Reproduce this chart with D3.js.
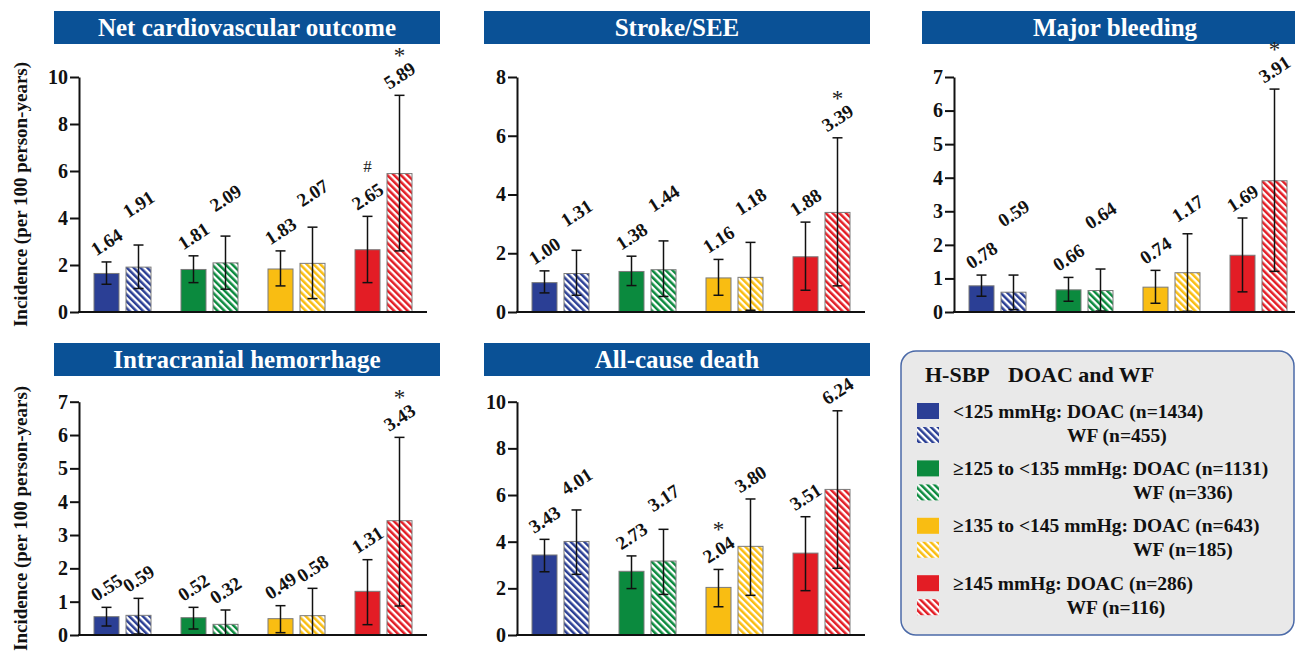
<!DOCTYPE html>
<html>
<head>
<meta charset="utf-8">
<script src="https://cdn.jsdelivr.net/npm/d3@7"></script>
<style>
    body { margin: 0; background: #fff; }
    svg, svg text { font-family: "Liberation Serif", Tinos, "Times New Roman", Times, "DejaVu Serif", serif !important; }
</style>
</head>
<body>
<div id="chart"></div>
<script>
const GROUPS = ['<125 mmHg', '≥125 to <135 mmHg', '≥135 to <145 mmHg', '≥145 mmHg'];
const DOAC_N = [1434, 1131, 643, 286];
const WF_N = [455, 336, 185, 116];
const COLORS = ['#2b3f95', '#0b8a3e', '#f9bd12', '#e31d25'];

// incidence per 100 person-years, with 95% CI [low, high]
const NET_DOAC = [1.64, 1.81, 1.83, 2.65];
const NET_DOAC_CI = [[1.18, 2.13], [1.25, 2.39], [1.11, 2.6], [1.25, 4.07]];
const NET_WF = [1.91, 2.09, 2.07, 5.89];
const NET_WF_CI = [[1.0, 2.85], [0.97, 3.23], [0.57, 3.61], [2.6, 9.22]];

const STROKE_DOAC = [1.0, 1.38, 1.16, 1.88];
const STROKE_DOAC_CI = [[0.65, 1.4], [0.9, 1.9], [0.57, 1.79], [0.74, 3.06]];
const STROKE_WF = [1.31, 1.44, 1.18, 3.39];
const STROKE_WF_CI = [[0.57, 2.1], [0.53, 2.42], [0.06, 2.37], [0.89, 5.93]];

const BLEED_DOAC = [0.78, 0.66, 0.74, 1.69];
const BLEED_DOAC_CI = [[0.47, 1.1], [0.32, 1.03], [0.26, 1.24], [0.6, 2.8]];
const BLEED_WF = [0.59, 0.64, 1.17, 3.91];
const BLEED_WF_CI = [[0.07, 1.1], [0.03, 1.28], [0.02, 2.33], [1.21, 6.64]];

const ICH_DOAC = [0.55, 0.52, 0.49, 1.31];
const ICH_DOAC_CI = [[0.27, 0.83], [0.18, 0.83], [0.07, 0.88], [0.31, 2.26]];
const ICH_WF = [0.59, 0.32, 0.58, 3.43];
const ICH_WF_CI = [[0.03, 1.1], [0.0, 0.75], [0.0, 1.4], [0.87, 5.93]];

const DEATH_DOAC = [3.43, 2.73, 2.04, 3.51];
const DEATH_DOAC_CI = [[2.71, 4.1], [1.99, 3.39], [1.21, 2.81], [1.9, 5.07]];
const DEATH_WF = [4.01, 3.17, 3.8, 6.24];
const DEATH_WF_CI = [[2.6, 5.36], [1.74, 4.53], [1.7, 5.83], [2.86, 9.61]];

// significance marks above bars
const NET_DOAC_MARK = ['', '', '', '#'];
const NET_WF_MARK = ['', '', '', '*'];
const STROKE_WF_MARK = ['', '', '', '*'];
const BLEED_WF_MARK = ['', '', '', '*'];
const ICH_WF_MARK = ['', '', '', '*'];
const DEATH_DOAC_MARK = ['', '', '*', ''];
const NO_MARK = ['', '', '', ''];

const panels = [
    { title: 'Net cardiovascular outcome', col: 0, row: 0, yMax: 10, step: 2,
      doac: NET_DOAC, doacCI: NET_DOAC_CI, wf: NET_WF, wfCI: NET_WF_CI,
      doacMark: NET_DOAC_MARK, wfMark: NET_WF_MARK, stagger: 38 },
    { title: 'Stroke/SEE', col: 1, row: 0, yMax: 8, step: 2,
      doac: STROKE_DOAC, doacCI: STROKE_DOAC_CI, wf: STROKE_WF, wfCI: STROKE_WF_CI,
      doacMark: NO_MARK, wfMark: STROKE_WF_MARK, stagger: 38 },
    { title: 'Major bleeding', col: 2, row: 0, yMax: 7, step: 1,
      doac: BLEED_DOAC, doacCI: BLEED_DOAC_CI, wf: BLEED_WF, wfCI: BLEED_WF_CI,
      doacMark: NO_MARK, wfMark: BLEED_WF_MARK, stagger: 42 },
    { title: 'Intracranial hemorrhage', col: 0, row: 1, yMax: 7, step: 1,
      doac: ICH_DOAC, doacCI: ICH_DOAC_CI, wf: ICH_WF, wfCI: ICH_WF_CI,
      doacMark: NO_MARK, wfMark: ICH_WF_MARK, stagger: 0 },
    { title: 'All-cause death', col: 1, row: 1, yMax: 10, step: 2,
      doac: DEATH_DOAC, doacCI: DEATH_DOAC_CI, wf: DEATH_WF, wfCI: DEATH_WF_CI,
      doacMark: DEATH_DOAC_MARK, wfMark: NO_MARK, stagger: 38 }
];

const width = 1295;
const height = 653;
const axisX = [79, 517, 954];
const titleX = [54, 484, 922];
const titleW = 386;
const titleY = [11, 343];
const titleH = 33;
const plotBottom = [312, 635];
const plotTop = [77, 401.7];
const TITLE_BG = '#0a5196';
const FONT = '"Liberation Serif", Tinos, "Times New Roman", Times, "DejaVu Serif", serif';

const svg = d3.select('#chart')
    .append('svg')
    .attr('width', width)
    .attr('height', height)
    .attr('font-family', FONT);

// hatch patterns
const defs = svg.append('defs');
COLORS.forEach((c, i) => {
    const p = defs.append('pattern')
        .attr('id', 'hatch' + i)
        .attr('patternUnits', 'userSpaceOnUse')
        .attr('width', 4.8)
        .attr('height', 4.8)
        .attr('patternTransform', 'rotate(-45)');
    p.append('rect').attr('width', 4.8).attr('height', 4.8).attr('fill', '#fff');
    p.append('rect').attr('width', 2.5).attr('height', 4.8).attr('fill', c);
});

panels.forEach((pn) => {
    const g = svg.append('g');
    const x0 = axisX[pn.col];
    const yB = plotBottom[pn.row];

    // title banner
    g.append('rect')
        .attr('x', titleX[pn.col])
        .attr('y', titleY[pn.row])
        .attr('width', titleW)
        .attr('height', titleH)
        .attr('fill', TITLE_BG);
    g.append('text')
        .attr('x', titleX[pn.col] + titleW / 2)
        .attr('y', titleY[pn.row] + titleH / 2 + 8.5)
        .attr('text-anchor', 'middle')
        .attr('fill', '#fff')
        .attr('font-weight', 'bold')
        .attr('font-size', 25)
        .text(pn.title);

    const x = d3.scaleBand()
        .domain(GROUPS)
        .range([x0, x0 + 348])
        .paddingInner(30 / 87)
        .paddingOuter(15 / 87);
    const xSub = d3.scaleBand()
        .domain(['DOAC', 'WF'])
        .range([0, x.bandwidth()])
        .paddingInner(7 / 32);
    const y = d3.scaleLinear()
        .domain([0, pn.yMax])
        .range([yB, plotTop[pn.row]]);

    const bars = [];
    GROUPS.forEach((grp, i) => {
        bars.push({ grp, i, kind: 'DOAC', v: pn.doac[i], ci: pn.doacCI[i], mark: pn.doacMark[i] });
        bars.push({ grp, i, kind: 'WF', v: pn.wf[i], ci: pn.wfCI[i], mark: pn.wfMark[i] });
    });

    const bw = xSub.bandwidth();
    const cx = (d) => x(d.grp) + xSub(d.kind) + bw / 2;

    g.selectAll('rect.bar')
        .data(bars)
        .enter()
        .append('rect')
        .attr('class', 'bar')
        .attr('x', (d) => x(d.grp) + xSub(d.kind))
        .attr('y', (d) => y(d.v))
        .attr('width', bw)
        .attr('height', (d) => yB - y(d.v))
        .attr('fill', (d) => (d.kind === 'DOAC' ? COLORS[d.i] : 'url(#hatch' + d.i + ')'))
        .attr('stroke', '#7a7a7a')
        .attr('stroke-width', 1);

    // error bars
    const err = g.selectAll('g.err')
        .data(bars)
        .enter()
        .append('g')
        .attr('stroke', '#111')
        .attr('stroke-width', 1.5);
    err.append('line')
        .attr('x1', cx).attr('x2', cx)
        .attr('y1', (d) => y(d.ci[0]))
        .attr('y2', (d) => y(d.ci[1]));
    err.append('line')
        .attr('x1', (d) => cx(d) - 5).attr('x2', (d) => cx(d) + 5)
        .attr('y1', (d) => y(d.ci[1])).attr('y2', (d) => y(d.ci[1]));
    err.append('line')
        .attr('x1', (d) => cx(d) - 5).attr('x2', (d) => cx(d) + 5)
        .attr('y1', (d) => y(d.ci[0])).attr('y2', (d) => y(d.ci[0]));

    // value labels: DOAC just above its CI, WF lifted clear of the DOAC label
    bars.forEach((d) => {
        d.ly = y(d.ci[1]) - 20;
    });
    bars.forEach((d, k) => {
        if (d.kind === 'WF' && pn.stagger) {
            d.ly = Math.min(d.ly, bars[k - 1].ly - pn.stagger);
        }
    });
    g.selectAll('text.val')
        .data(bars)
        .enter()
        .append('text')
        .attr('class', 'val')
        .attr('transform', (d) => 'translate(' + cx(d) + ',' + d.ly + ') rotate(-33)')
        .attr('text-anchor', 'middle')
        .attr('dy', '0.35em')
        .attr('font-weight', 'bold')
        .attr('font-size', 19)
        .attr('fill', '#111')
        .text((d) => d.v.toFixed(2));
    g.selectAll('text.mark')
        .data(bars.filter((d) => d.mark))
        .enter()
        .append('text')
        .attr('x', cx)
        .attr('y', (d) => (d.mark === '*' ? d.ly - 12 : d.ly - 24))
        .attr('text-anchor', 'middle')
        .attr('font-size', (d) => (d.mark === '*' ? 23 : 17))
        .attr('fill', '#222')
        .text((d) => d.mark);

    // axes
    const yAxis = d3.axisLeft(y)
        .tickValues(d3.range(0, pn.yMax + 0.001, pn.step))
        .tickSize(9)
        .tickSizeOuter(0)
        .tickPadding(2)
        .tickFormat(d3.format('d'));
    const ya = g.append('g')
        .attr('transform', 'translate(' + x0 + ',0)')
        .call(yAxis)
        .attr('font-family', FONT);
    ya.select('.domain').attr('stroke', '#111').attr('stroke-width', 2);
    ya.selectAll('.tick line').attr('stroke', '#111').attr('stroke-width', 2);
    ya.selectAll('.tick text')
        .attr('font-weight', 'bold')
        .attr('font-size', 20)
        .attr('fill', '#111');

    g.append('line')
        .attr('x1', x0 - 1)
        .attr('x2', x.range()[1])
        .attr('y1', yB)
        .attr('y2', yB)
        .attr('stroke', '#111')
        .attr('stroke-width', 2);

    if (pn.col === 0) {
        g.append('text')
            .attr('transform', 'translate(27,' + (yB + plotTop[pn.row]) / 2 + ') rotate(-90)')
            .attr('text-anchor', 'middle')
            .attr('font-weight', 'bold')
            .attr('font-size', 19)
            .attr('fill', '#111')
            .text('Incidence (per 100 person-years)');
    }
});

// legend
const legend = svg.append('g');
legend.append('rect')
    .attr('x', 901)
    .attr('y', 351)
    .attr('width', 393)
    .attr('height', 284)
    .attr('rx', 15)
    .attr('fill', '#e9e9e9')
    .attr('stroke', '#4b6aa8')
    .attr('stroke-width', 1.5);
legend.append('text')
    .attr('x', 925)
    .attr('y', 382)
    .attr('font-weight', 'bold')
    .attr('font-size', 22)
    .attr('fill', '#111')
    .text('H-SBP');
legend.append('text')
    .attr('x', 1008)
    .attr('y', 382)
    .attr('font-weight', 'bold')
    .attr('font-size', 22)
    .attr('fill', '#111')
    .text('DOAC and WF');

GROUPS.forEach((grp, i) => {
    const top = 403 + i * 57.4;
    legend.append('rect')
        .attr('x', 917).attr('y', top)
        .attr('width', 22).attr('height', 16)
        .attr('fill', COLORS[i]);
    legend.append('rect')
        .attr('x', 917).attr('y', top + 24)
        .attr('width', 22).attr('height', 16)
        .attr('fill', 'url(#hatch' + i + ')');
    const t = legend.append('text')
        .attr('x', 953)
        .attr('y', top + 14.5)
        .attr('font-weight', 'bold')
        .attr('font-size', 19.5)
        .attr('fill', '#111');
    const pre = t.append('tspan').text(grp + ': ');
    t.append('tspan').text('DOAC (n=' + DOAC_N[i] + ')');
    const off = pre.node().getComputedTextLength();
    legend.append('text')
        .attr('x', 953 + off)
        .attr('y', top + 38.5)
        .attr('font-weight', 'bold')
        .attr('font-size', 19.5)
        .attr('fill', '#111')
        .text('WF (n=' + WF_N[i] + ')');
});
</script>
</body>
</html>
